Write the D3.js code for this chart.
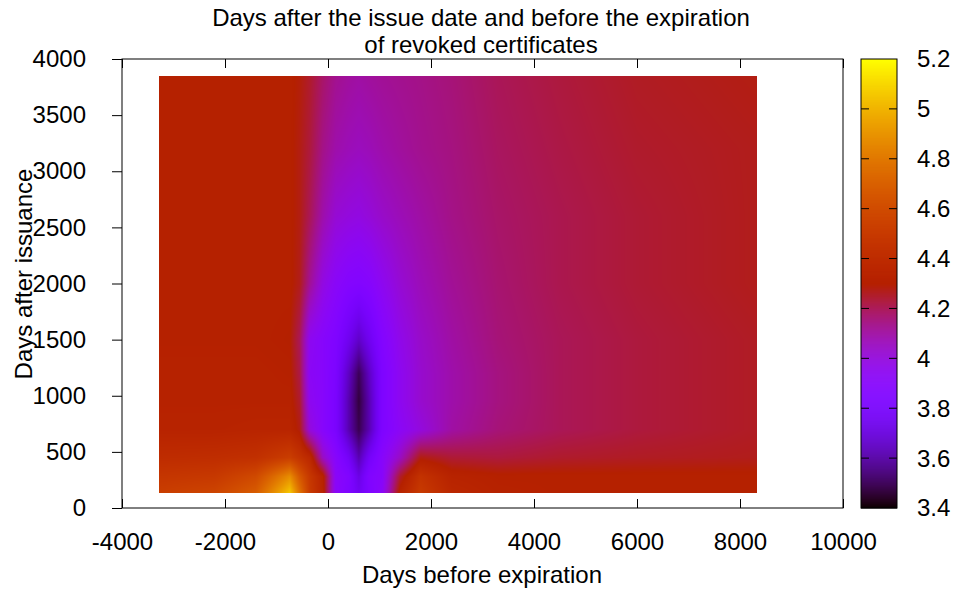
<!DOCTYPE html>
<html>
<head>
<meta charset="utf-8">
<script src="https://cdn.jsdelivr.net/npm/d3@7/dist/d3.min.js"></script>
<style>
  body { margin: 0; background: #fff; }
  text { font-family: "Liberation Sans", Arial, sans-serif; font-size: 24px; fill: #000; }
</style>
</head>
<body>
<svg width="954" height="589"></svg>
<script>
// grid nodes (days before expiration / days after issuance)
const xGrid = [-3285, -2200, -1400, -740, -550, -350, -100, 150, 400, 600, 800, 1050, 1400, 1800, 2400, 3300, 4500, 6000, 8325]
const yGrid = [136, 280, 450, 700, 950, 1200, 1500, 2000, 2600, 3200, 3853]

// values per row, one row for each yGrid entry (bottom to top)
const row136  = [4.52, 4.56, 4.68, 5.06, 4.78, 4.50, 4.34, 3.92, 3.84, 3.76, 3.84, 3.92, 4.33, 4.50, 4.36, 4.32, 4.31, 4.31, 4.31]
const row280  = [4.47, 4.49, 4.59, 4.88, 4.66, 4.48, 4.33, 3.92, 3.86, 3.72, 3.86, 3.90, 4.25, 4.45, 4.33, 4.31, 4.31, 4.31, 4.31]
const row450  = [4.40, 4.41, 4.43, 4.52, 4.45, 4.37, 4.05, 3.90, 3.78, 3.62, 3.78, 3.90, 4.05, 4.28, 4.24, 4.23, 4.25, 4.26, 4.27]
const row700  = [4.33, 4.33, 4.34, 4.34, 4.28, 4.00, 3.90, 3.82, 3.62, 3.49, 3.62, 3.84, 3.93, 4.00, 4.10, 4.16, 4.20, 4.23, 4.26]
const row950  = [4.32, 4.32, 4.32, 4.32, 4.25, 3.95, 3.90, 3.82, 3.62, 3.47, 3.62, 3.84, 3.95, 4.03, 4.09, 4.15, 4.20, 4.23, 4.26]
const row1200 = [4.32, 4.32, 4.32, 4.31, 4.22, 3.93, 3.90, 3.83, 3.65, 3.50, 3.65, 3.84, 3.95, 4.03, 4.09, 4.15, 4.20, 4.23, 4.26]
const row1500 = [4.31, 4.31, 4.31, 4.30, 4.20, 3.95, 3.90, 3.85, 3.75, 3.66, 3.75, 3.87, 3.97, 4.04, 4.10, 4.16, 4.20, 4.23, 4.26]
const row2000 = [4.31, 4.31, 4.31, 4.31, 4.27, 4.12, 3.99, 3.92, 3.88, 3.87, 3.89, 3.95, 4.02, 4.07, 4.12, 4.17, 4.21, 4.24, 4.27]
const row2600 = [4.31, 4.31, 4.31, 4.31, 4.28, 4.20, 4.09, 4.02, 4.00, 3.99, 4.01, 4.04, 4.07, 4.10, 4.14, 4.18, 4.21, 4.24, 4.27]
const row3200 = [4.31, 4.31, 4.31, 4.31, 4.28, 4.23, 4.14, 4.09, 4.07, 4.06, 4.07, 4.09, 4.11, 4.13, 4.15, 4.19, 4.22, 4.25, 4.27]
const row3853 = [4.31, 4.31, 4.31, 4.31, 4.29, 4.25, 4.18, 4.13, 4.11, 4.10, 4.11, 4.12, 4.13, 4.14, 4.16, 4.20, 4.23, 4.26, 4.28]
const zRows = [row136, row280, row450, row700, row950, row1200, row1500, row2000, row2600, row3200, row3853]

// tick labels
const xTickValues = [-4000, -2000, 0, 2000, 4000, 6000, 8000, 10000]
const yTickValues = [0, 500, 1000, 1500, 2000, 2500, 3000, 3500, 4000]
const cbTickValues = [3.4, 3.6, 3.8, 4, 4.2, 4.4, 4.6, 4.8, 5, 5.2]

const titleLines = ['Days after the issue date and before the expiration', 'of revoked certificates']
const xLabel = 'Days before expiration'
const yLabel = 'Days after issuance'

const svg = d3.select('svg')

// scales
const x = d3.scaleLinear().domain([-4000, 10000]).range([122, 843])
const y = d3.scaleLinear().domain([0, 4000]).range([508, 59])
const zNorm = d3.scaleLinear().domain([3.4, 5.2]).range([0, 1]).clamp(true)
const cbY = d3.scaleLinear().domain([3.4, 5.2]).range([508, 59])

// gnuplot default palette (rgbformulae 7,5,15)
const palette = t => {
  const r = Math.sqrt(t)
  const g = t * t * t
  const b = Math.max(0, Math.sin(2 * Math.PI * t))
  return [r, g, b].map(v => Math.round(255 * Math.min(1, Math.max(0, v))))
}

// bilinear lookup between grid nodes
const valueAt = (xv, yv) => {
  const i = Math.max(0, Math.min(xGrid.length - 2, d3.bisectRight(xGrid, xv) - 1))
  const j = Math.max(0, Math.min(yGrid.length - 2, d3.bisectRight(yGrid, yv) - 1))
  const tx = Math.max(0, Math.min(1, (xv - xGrid[i]) / (xGrid[i + 1] - xGrid[i])))
  const ty = Math.max(0, Math.min(1, (yv - yGrid[j]) / (yGrid[j + 1] - yGrid[j])))
  const lo = zRows[j][i] * (1 - tx) + zRows[j][i + 1] * tx
  const hi = zRows[j + 1][i] * (1 - tx) + zRows[j + 1][i + 1] * tx
  return lo * (1 - ty) + hi * ty
}

// heat map painted pixel by pixel onto a canvas, then placed in the svg
const hx0 = Math.round(x(xGrid[0]))
const hx1 = Math.round(x(xGrid[xGrid.length - 1]))
const hy0 = Math.round(y(yGrid[yGrid.length - 1]))
const hy1 = Math.round(y(yGrid[0]))
const w = hx1 - hx0
const h = hy1 - hy0
const canvas = document.createElement('canvas')
canvas.width = w
canvas.height = h
const ctx = canvas.getContext('2d')
const img = ctx.createImageData(w, h)
for (let py = 0; py < h; py++) {
  const yv = y.invert(hy0 + py + 0.5)
  for (let px = 0; px < w; px++) {
    const xv = x.invert(hx0 + px + 0.5)
    const c = palette(zNorm(valueAt(xv, yv)))
    const k = (py * w + px) * 4
    img.data[k] = c[0]
    img.data[k + 1] = c[1]
    img.data[k + 2] = c[2]
    img.data[k + 3] = 255
  }
}
ctx.putImageData(img, 0, 0)

svg.append('image')
  .attr('x', hx0)
  .attr('y', hy0)
  .attr('width', w)
  .attr('height', h)
  .attr('href', canvas.toDataURL())

// plot frame
svg.append('rect')
  .attr('x', 122).attr('y', 59)
  .attr('width', 843 - 122).attr('height', 508 - 59)
  .attr('fill', 'none')
  .attr('stroke', '#000')
  .attr('stroke-width', 1)

// axes
const xAxis = svg.append('g')
  .attr('transform', 'translate(0,508)')
  .call(d3.axisBottom(x).tickValues(xTickValues).tickSize(-9).tickPadding(25).tickFormat(d => String(d)))
xAxis.select('.domain').remove()

svg.append('g')
  .attr('transform', 'translate(0,59)')
  .call(d3.axisTop(x).tickValues(xTickValues).tickSize(-9).tickFormat(''))
  .select('.domain').remove()

const yAxis = svg.append('g')
  .attr('transform', 'translate(122,0)')
  .call(d3.axisLeft(y).tickValues(yTickValues).tickSize(10).tickPadding(26).tickFormat(d => String(d)))
yAxis.select('.domain').remove()

svg.selectAll('.tick line').attr('stroke', '#000')
svg.selectAll('.tick text')
  .style('font-family', '"Liberation Sans", Arial, sans-serif')
  .style('font-size', '24px')
  .attr('fill', '#000')

// colour box
const cbX0 = 861
const cbX1 = 897
const cbSteps = d3.range(0, 450)
svg.append('g')
  .selectAll('rect')
  .data(cbSteps)
  .join('rect')
  .attr('x', cbX0)
  .attr('width', cbX1 - cbX0)
  .attr('y', d => cbY(3.4 + (d + 1) * 1.8 / 450))
  .attr('height', d => cbY(3.4 + d * 1.8 / 450) - cbY(3.4 + (d + 1) * 1.8 / 450) + 0.5)
  .attr('fill', d => {
    const c = palette((d + 0.5) / 450)
    return `rgb(${c[0]},${c[1]},${c[2]})`
  })

svg.append('rect')
  .attr('x', cbX0).attr('y', 59)
  .attr('width', cbX1 - cbX0).attr('height', 508 - 59)
  .attr('fill', 'none')
  .attr('stroke', '#000')

const cbTicks = svg.append('g')
cbTicks.selectAll('line.l')
  .data(cbTickValues.slice(1, -1))
  .join('line')
  .attr('x1', cbX0).attr('x2', cbX0 + 8)
  .attr('y1', d => cbY(d)).attr('y2', d => cbY(d))
  .attr('stroke', '#000')
cbTicks.selectAll('line.r')
  .data(cbTickValues.slice(1, -1))
  .enter()
  .append('line')
  .attr('x1', cbX1 - 8).attr('x2', cbX1)
  .attr('y1', d => cbY(d)).attr('y2', d => cbY(d))
  .attr('stroke', '#000')
cbTicks.selectAll('text')
  .data(cbTickValues)
  .join('text')
  .attr('x', 917)
  .attr('y', d => cbY(d))
  .attr('dy', '0.35em')
  .text(d => d3.format('~g')(d))

// title and axis labels
svg.append('g')
  .selectAll('text')
  .data(titleLines)
  .join('text')
  .attr('x', 481)
  .attr('y', (d, i) => 26 + i * 27)
  .attr('text-anchor', 'middle')
  .text(d => d)

svg.append('text')
  .attr('x', 482)
  .attr('y', 583)
  .attr('text-anchor', 'middle')
  .text(xLabel)

svg.append('text')
  .attr('transform', 'translate(32,274) rotate(-90)')
  .attr('text-anchor', 'middle')
  .text(yLabel)
</script>
</body>
</html>
